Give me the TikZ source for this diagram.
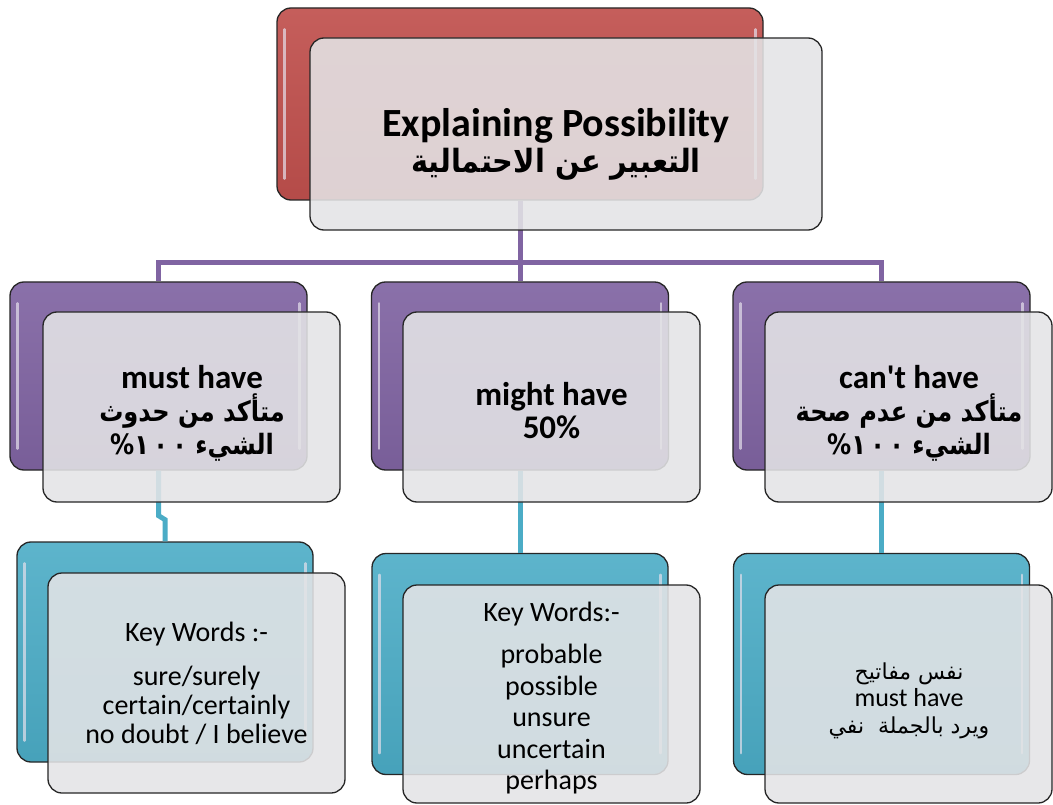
\documentclass[tikz,border=0pt]{standalone}
\usepackage{fontspec}
\setmainfont{Carlito}
\newfontfamily\arabicfont[Script=Arabic]{DejaVu Sans}
\TeXXeTstate=1
\definecolor{boxred}{HTML}{C0504D}
\definecolor{boxpurple}{HTML}{8064A2}
\definecolor{boxblue}{HTML}{4BACC6}
\definecolor{glass}{HTML}{E4E4E6}
\newcommand{\ar}[1]{{\arabicfont\beginR #1\endR}}
\newcommand{\arn}[1]{\scalebox{.86}[1]{\ar{#1}}}
\newcommand{\hundred}{\beginL١\hspace{5pt}٠\hspace{5pt}٠\endL}

\begin{document}
\setlength{\lineskiplimit}{-40pt}
\begin{tikzpicture}
[x=1pt,y=-1pt,
back/.style={draw=black!85,line width=1.3pt,rounded corners=14pt,inner sep=0pt},
redbox/.style={back,top color=boxred!92!white,bottom color=boxred!94!black,minimum width=486pt,minimum height=192pt},
purplebox/.style={back,top color=boxpurple!92!white,bottom color=boxpurple!94!black,minimum width=297pt,minimum height=188pt},
bluebox/.style={back,top color=boxblue!90!white,bottom color=boxblue!94!black,minimum width=296pt,minimum height=221pt},
front/.style={draw=black!85,line width=1.3pt,rounded corners=14pt,fill=glass,fill opacity=.88,inner sep=0pt,minimum width=297pt},
words/.style={align=center,inner sep=0pt},
gloss/.style={white!80!boxpurple,line width=2.5pt,line cap=round,opacity=.7},
link/.style={line width=5pt}]
\fill[white] (0,0) rectangle (1053,805);
\useasboundingbox (0,0) rectangle (1053,805);

% back boxes
\node[redbox] (top) at (520,104) {};
\node[purplebox] (must) at (158.5,376) {};
\node[purplebox] (might) at (520,376) {};
\node[purplebox] (cant) at (881.5,376) {};
\node[bluebox,minimum height=220pt] (mustkw) at (165,652) {};
\node[bluebox] (mightkw) at (520,664) {};
\node[bluebox] (cantkw) at (881.5,664) {};

% shine on the sides
\foreach \b in {top,must,might,cant,mustkw,mightkw,cantkw}{
  \draw[gloss] ([xshift=8pt,yshift=-22pt]\b.north west) -- ([xshift=8pt,yshift=22pt]\b.south west);
  \draw[gloss] ([xshift=-8pt,yshift=-22pt]\b.north east) -- ([xshift=-8pt,yshift=22pt]\b.south east);
}

% connectors
\draw[link,boxpurple] (top.south) -- (might.north);
\draw[link,boxpurple] (top.south) -- ++(0,62) -| (must.north);
\draw[link,boxpurple] (top.south) -- ++(0,62) -| (cant.north);
\draw[link,boxblue] (must.south) -- ++(0,45) -- ++(6.5,4) -- (mustkw.north);
\draw[link,boxblue] (might.south) -- (mightkw.north);
\draw[link,boxblue] (cant.south) -- (cantkw.north);

% front boxes
\node[front,minimum width=512pt,minimum height=192pt] (topf) at (566,134) {};
\node[front,minimum height=190pt] (mustf) at (191.5,407) {};
\node[front,minimum height=190pt] (mightf) at (551.5,407) {};
\node[front,minimum width=287pt,minimum height=190pt] (cantf) at (908.5,407) {};
\node[front,minimum height=220pt] (mustkwf) at (196.5,683) {};
\node[front,minimum height=218pt] (mightkwf) at (551.5,694) {};
\node[front,minimum width=287pt,minimum height=218pt] (cantkwf) at (908.5,694) {};

% texts
\node[words,font=\fontsize{40}{36}\selectfont\bfseries] (toptext) at (556,144)
  {Explaining Possibility\\ {\fontsize{32}{36}\selectfont\scalebox{.9}[1]{\ar{التعبير عن الاحتمالية}}}};
\node[words,font=\fontsize{33}{33}\selectfont\bfseries] (musttext) at (192,413)
  {must have\\ {\fontsize{28}{33}\selectfont\arn{متأكد من حدوث}}\\
   {\fontsize{28}{33}\selectfont\arn{الشيء \hundred\%}}};
\node[words,font=\fontsize{33}{33}\selectfont\bfseries] (mighttext) at (551.5,411)
  {might have\\ 50\%};
\node[words,font=\fontsize{33}{33}\selectfont\bfseries] (canttext) at (909,413)
  {can\textquotesingle t have\\ {\fontsize{28}{33}\selectfont\arn{متأكد من عدم صحة}}\\
   {\fontsize{28}{33}\selectfont\arn{الشيء \hundred\%}}};
\node[words,font=\fontsize{28}{29}\selectfont] (mustkwtext) at (196.5,683)
  {Key Words :-\\[15pt] sure/surely\\ certain/certainly\\ no doubt / I believe};
\node[words,font=\fontsize{28}{31.5}\selectfont] (mightkwtext) at (551.5,698)
  {Key Words:-\\[11pt] probable\\ possible\\ unsure\\ uncertain\\ perhaps};
\node[words,font=\fontsize{26}{27}\selectfont] (cantkwtext) at (909,701)
  {{\fontsize{22}{27}\selectfont\ar{نفس مفاتيح}}\\ must have\\
   {\fontsize{22}{27}\selectfont\ar{ويرد بالجملة\ \ نفي}}};
\end{tikzpicture}
\end{document}
